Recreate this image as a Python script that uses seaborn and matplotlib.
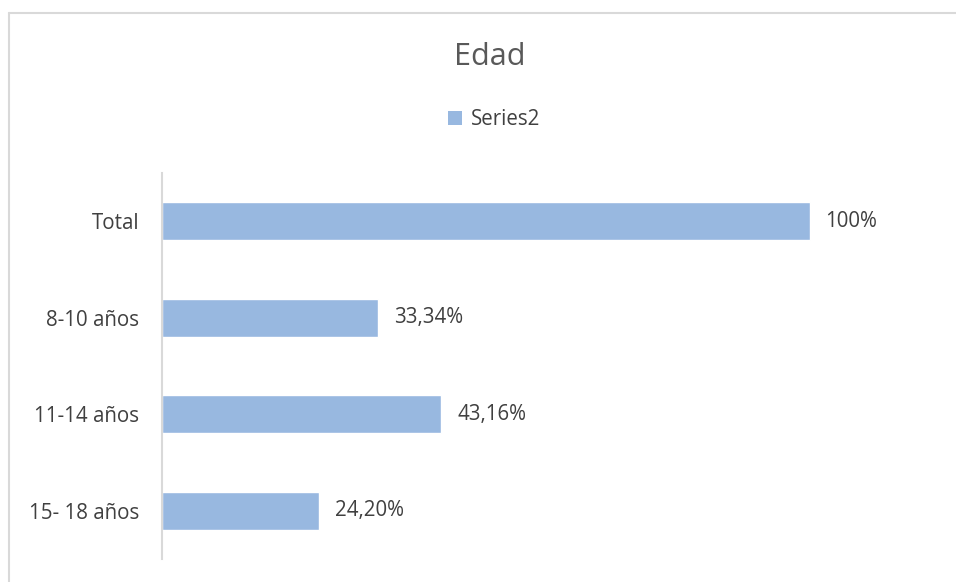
import matplotlib
matplotlib.use("Agg")
import matplotlib.pyplot as plt
import seaborn as sns
from matplotlib.lines import Line2D
from matplotlib.patches import Patch

# Data
categories = ["Total", "8-10 años", "11-14 años", "15- 18 años"]
values = [1.0, 0.3334, 0.4316, 0.2420]
value_labels = ["100%", "33,34%", "43,16%", "24,20%"]
series_name = "Series2"
title = "Edad"

bar_color = "#98B8E0"
text_color = "#404040"
grid_color = "#D9D9D9"

sns.set_theme(style="white")
plt.rcParams["font.family"] = ["Open Sans", "DejaVu Sans"]

W, H = 956, 582
fig = plt.figure(figsize=(W / 100, H / 100), dpi=100)
fig.patch.set_facecolor("white")

# plot area in pixels: x 162..939, y 173..559
ax = fig.add_axes([162 / W, (H - 559) / H, (939 - 162) / W, (559 - 173) / H])

sns.barplot(x=values, y=categories, orient="h", color=bar_color,
            saturation=1, width=0.39, ax=ax)

ax.set_xlim(0, 1.2)
ax.set_xlabel("")
ax.set_ylabel("")
ax.xaxis.set_visible(False)
for side in ["top", "right", "bottom"]:
    ax.spines[side].set_visible(False)
ax.spines["left"].set_color(grid_color)
ax.spines["left"].set_linewidth(1.5)
ax.tick_params(axis="y", length=0, pad=16.5, labelsize=14.8, labelcolor=text_color)

ax.bar_label(ax.containers[0], labels=value_labels, padding=11.5,
             fontsize=14.8, color=text_color)

# title and legend
fig.text(490 / W, 1 - 57 / H, title, ha="center", va="center",
         fontsize=22, color="#595959")
handles = [Patch(facecolor=bar_color, edgecolor="none", label=series_name)]
fig.legend(handles=handles, loc="center", bbox_to_anchor=(494 / W, 1 - 120 / H),
           frameon=False, fontsize=14.8, labelcolor=text_color,
           handlelength=0.7, handleheight=0.7, handletextpad=0.4)

# chart border (only top and left visible in crop)
fig.add_artist(Line2D([9 / W, 9 / W], [0, 1 - 13 / H], transform=fig.transFigure,
                      color=grid_color, linewidth=1.5))
fig.add_artist(Line2D([9 / W, 1], [1 - 13 / H, 1 - 13 / H], transform=fig.transFigure,
                      color=grid_color, linewidth=1.5))

fig.savefig("out.png", dpi=100, facecolor="white")
